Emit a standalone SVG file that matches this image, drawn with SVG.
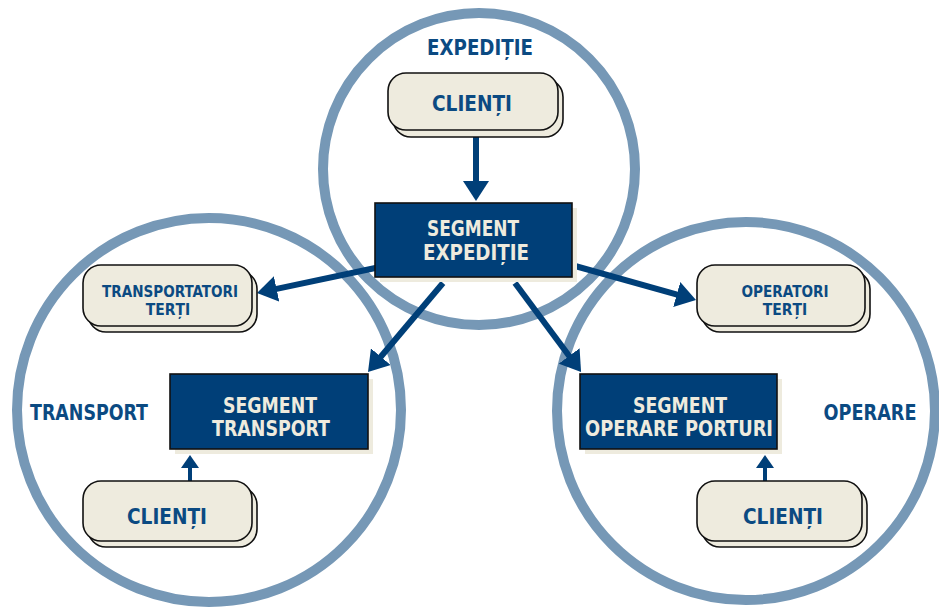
<svg xmlns="http://www.w3.org/2000/svg" width="939" height="607" viewBox="0 0 939 607">
<defs>
<style>
.ring{fill:none;stroke:#7698b6;stroke-width:10}
.pill{fill:#eeebde;stroke:#111;stroke-width:1.6}
.seg{fill:#003f78;stroke:#111;stroke-width:1.6}
.segsh{fill:#eeebde}
.t{font-family:"DejaVu Sans Condensed","DejaVu Sans",sans-serif;font-weight:bold;text-anchor:middle}
.dk{fill:#0b4a82}
.lt{fill:#eeebde}
.big{stroke:#003f78;stroke-width:6;fill:none}
.sm{stroke:#003f78;stroke-width:4;fill:none}
</style>
<marker id="ah" markerUnits="userSpaceOnUse" viewBox="0 0 20 26" markerWidth="20" markerHeight="26" refX="6" refY="13" orient="auto"><path d="M0,0 L20,13 L0,26 z" fill="#003f78"/></marker>
<marker id="ahs" markerUnits="userSpaceOnUse" viewBox="0 0 13 18" markerWidth="13" markerHeight="18" refX="3" refY="9" orient="auto"><path d="M0,0 L13,9 L0,18 z" fill="#003f78"/></marker>
</defs>
<rect width="939" height="607" fill="#fff"/>
<g id="circles">
<circle class="ring" cx="479" cy="169" r="156"/>
<circle class="ring" cx="209" cy="410" r="192"/>
<circle class="ring" cx="746" cy="411" r="189"/>
</g>
<g id="labels">
<text class="t dk" x="480" y="55" font-size="20.5" textLength="106" lengthAdjust="spacingAndGlyphs">EXPEDIȚIE</text>
<text class="t dk" x="89" y="420" font-size="20.5" textLength="118" lengthAdjust="spacingAndGlyphs">TRANSPORT</text>
<text class="t dk" x="870" y="420" font-size="20.5" textLength="93" lengthAdjust="spacingAndGlyphs">OPERARE</text>
</g>
<g id="connectors">
<line class="big" x1="476" y1="137" x2="476" y2="187" marker-end="url(#ah)"/>
<line class="big" x1="380" y1="267" x2="270.7" y2="290.1" marker-end="url(#ah)"/>
<line class="big" x1="443" y1="283" x2="377" y2="361.3" marker-end="url(#ah)"/>
<line class="big" x1="515" y1="283" x2="572.7" y2="360.8" marker-end="url(#ah)"/>
<line class="big" x1="568" y1="264" x2="682.5" y2="296.2" marker-end="url(#ah)"/>
<line class="sm" x1="190" y1="482" x2="190" y2="465" marker-end="url(#ahs)"/>
<line class="sm" x1="765" y1="482" x2="765" y2="465" marker-end="url(#ahs)"/>
</g>
<g id="clienti-expeditie">
<rect class="pill" x="393" y="79" width="170" height="58" rx="18"/>
<rect class="pill" x="388" y="73" width="170" height="57" rx="18"/>
<text class="t dk" x="472" y="111" font-size="22" textLength="80" lengthAdjust="spacingAndGlyphs">CLIENȚI</text>
</g>
<g id="segment-expeditie">
<rect class="segsh" x="380" y="208" width="197" height="74"/>
<rect class="seg" x="375" y="203" width="197" height="74"/>
<text class="t lt" x="473" y="236" font-size="21" textLength="92" lengthAdjust="spacingAndGlyphs">SEGMENT</text>
<text class="t lt" x="476" y="260" font-size="21" textLength="106" lengthAdjust="spacingAndGlyphs">EXPEDIȚIE</text>
</g>
<g id="transportatori-terti">
<rect class="pill" x="88" y="271" width="169" height="61" rx="18"/>
<rect class="pill" x="83" y="265" width="169" height="61" rx="18"/>
<text class="t dk" x="170" y="297" font-size="15.5" textLength="136" lengthAdjust="spacingAndGlyphs">TRANSPORTATORI</text>
<text class="t dk" x="168" y="315" font-size="15.5">TERȚI</text>
</g>
<g id="operatori-terti">
<rect class="pill" x="702" y="271" width="168" height="61" rx="18"/>
<rect class="pill" x="697" y="265" width="168" height="61" rx="18"/>
<text class="t dk" x="785" y="297" font-size="15.5" textLength="87" lengthAdjust="spacingAndGlyphs">OPERATORI</text>
<text class="t dk" x="785" y="315" font-size="15.5">TERȚI</text>
</g>
<g id="segment-transport">
<rect class="segsh" x="175" y="379" width="198" height="75"/>
<rect class="seg" x="170" y="374" width="198" height="75"/>
<text class="t lt" x="270" y="413" font-size="21" textLength="94" lengthAdjust="spacingAndGlyphs">SEGMENT</text>
<text class="t lt" x="271" y="436" font-size="21" textLength="118" lengthAdjust="spacingAndGlyphs">TRANSPORT</text>
</g>
<g id="segment-operare">
<rect class="segsh" x="585" y="379" width="197" height="75"/>
<rect class="seg" x="580" y="374" width="197" height="75"/>
<text class="t lt" x="680" y="413" font-size="21" textLength="94" lengthAdjust="spacingAndGlyphs">SEGMENT</text>
<text class="t lt" x="679" y="436" font-size="21" textLength="188" lengthAdjust="spacingAndGlyphs">OPERARE PORTURI</text>
</g>
<g id="clienti-transport">
<rect class="pill" x="88" y="487" width="169" height="60" rx="18"/>
<rect class="pill" x="83" y="481" width="169" height="60" rx="18"/>
<text class="t dk" x="167" y="524" font-size="22" textLength="80" lengthAdjust="spacingAndGlyphs">CLIENȚI</text>
</g>
<g id="clienti-operare">
<rect class="pill" x="702" y="487" width="165" height="60" rx="18"/>
<rect class="pill" x="697" y="481" width="165" height="60" rx="18"/>
<text class="t dk" x="783" y="524" font-size="22" textLength="80" lengthAdjust="spacingAndGlyphs">CLIENȚI</text>
</g>
</svg>
